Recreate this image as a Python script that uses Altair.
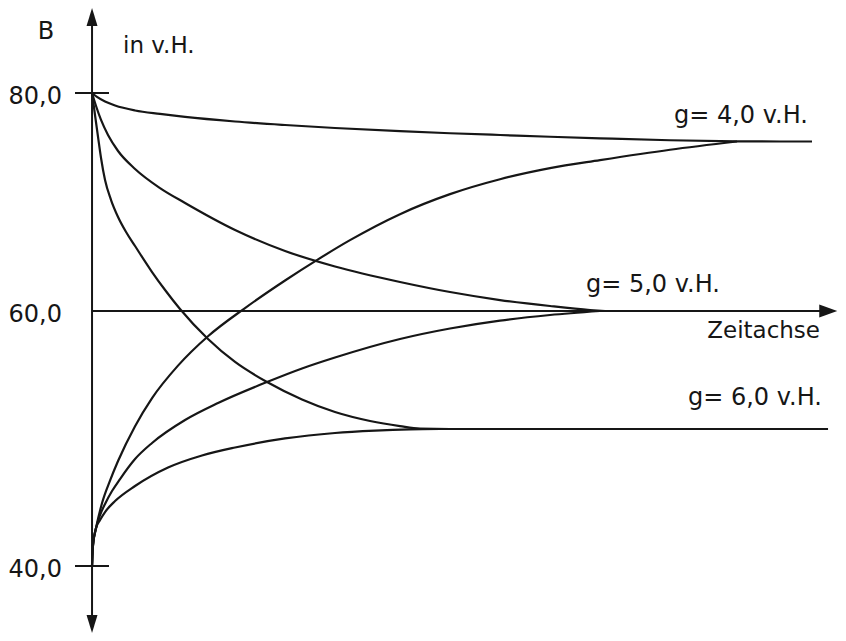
import altair as alt
import pandas as pd

# ---------------- data ----------------
# time (schematic units, 0 = vertical axis) and B (in v.H.)
t_g4_from80 = [0, 0.67, 1.75, 3.1, 5.79, 9.15, 12.52, 19.25, 25.98, 32.7, 41.45, 48.18, 54.91,
               61.64, 68.37, 77.79, 86.81, 92.6, 96.9]
v_g4_from80 = [80, 79.59, 79.12, 78.71, 78.20, 77.84, 77.53, 77.06, 76.70, 76.39, 76.06, 75.85,
               75.67, 75.49, 75.33, 75.13, 75.02, 75.0, 75.0]

t_g4_from40 = [0, 0.13, 0.54, 1.35, 2.42, 3.5, 5.79, 8.08, 11.57, 15.61, 20.59, 25.98, 30.42,
               34.72, 41.45, 48.18, 54.91, 61.64, 68.37, 77.79, 86.81]
v_g4_from40 = [40, 41.53, 42.77, 44.60, 46.23, 47.66, 50.24, 52.62, 55.37, 57.86, 60.26, 62.70,
               64.57, 66.27, 68.57, 70.34, 71.66, 72.64, 73.35, 74.27, 75.0]

t_g5_from80 = [0, 0.54, 1.21, 2.15, 3.5, 5.79, 9.15, 12.52, 19.25, 25.98, 32.7, 41.45, 48.18,
               54.91, 61.64, 67.03, 69.05]
v_g5_from80 = [80, 78.66, 77.22, 75.67, 74.16, 72.57, 70.88, 69.56, 67.17, 65.31, 63.94, 62.57,
               61.68, 60.97, 60.44, 60.09, 60.0]

t_g5_from40 = [0, 0.13, 0.54, 1.08, 1.75, 2.69, 3.77, 5.79, 8.08, 12.52, 16.96, 23.55, 28.26,
               32.7, 41.45, 48.18, 54.91, 61.64, 68.37]
v_g5_from40 = [40, 41.53, 42.77, 43.72, 44.53, 45.47, 46.35, 47.81, 48.98, 50.76, 52.20, 53.98,
               55.13, 56.06, 57.63, 58.52, 59.19, 59.66, 60.0]

t_g6_from80 = [0, 0.4, 0.81, 1.21, 1.75, 2.56, 3.5, 4.58, 5.79, 8.08, 9.83, 11.84, 15.61, 19.25,
               23.55, 28.26, 32.7, 37.42, 41.45, 44.15, 48.18, 99.06]
v_g6_from80 = [80, 77.73, 75.46, 73.54, 71.59, 69.82, 68.32, 66.99, 65.75, 63.45, 61.86, 60.18,
               57.63, 55.68, 53.98, 52.50, 51.44, 50.68, 50.25, 50.04, 50.0, 50.0]

t_g6_from40 = [0, 0.13, 0.54, 1.08, 1.75, 3.10, 5.79, 10.23, 14.80, 19.25, 25.98, 32.70, 38.09,
               42.80, 46.84]
v_g6_from40 = [40, 41.53, 42.77, 43.36, 43.94, 44.74, 45.84, 47.19, 48.07, 48.65, 49.31, 49.71,
               49.88, 49.97, 50.0]

levels = [75.0, 60.0, 50.0]
level_labels = ["g= 4,0 v.H.", "g= 5,0 v.H.", "g= 6,0 v.H."]
tick_values = [80.0, 60.0, 40.0]
tick_labels = ["80,0", "60,0", "40,0"]
marked_ticks = [80.0, 40.0]
axis_title_y = "B"
axis_unit = "in v.H."
axis_title_x = "Zeitachse"

# ---------------- build tables ----------------
curves = {
    "g4_80": (t_g4_from80, v_g4_from80),
    "g4_40": (t_g4_from40, v_g4_from40),
    "g5_80": (t_g5_from80, v_g5_from80),
    "g5_40": (t_g5_from40, v_g5_from40),
    "g6_80": (t_g6_from80, v_g6_from80),
    "g6_40": (t_g6_from40, v_g6_from40),
}
rows = []
for name, (ts, vs) in curves.items():
    for i, (t, v) in enumerate(zip(ts, vs)):
        rows.append({"curve": name, "i": i, "t": t, "v": v})
df_curves = pd.DataFrame(rows)

W, H = 830, 625
INK = "#161616"
FONT = "DejaVu Sans"

# schematic (hand-drawn) vertical scale: piecewise linear
xscale = alt.Scale(domain=[-11.31, 100.4], nice=False, zero=False)
yscale = alt.Scale(domain=[35.11, 40, 50, 60, 75, 80, 88.76],
                   range=[625, 558, 421, 303, 133.5, 85, 0], nice=False, zero=False)


def X(field="t"):
    return alt.X(f"{field}:Q", scale=xscale, axis=None)


def Y(field="v"):
    return alt.Y(f"{field}:Q", scale=yscale, axis=None)


lines = alt.Chart(df_curves).mark_line(
    interpolate="monotone", strokeWidth=2.2, color=INK
).encode(x=X(), y=Y(), detail="curve:N", order="i:Q")

v_axis = alt.Chart(pd.DataFrame({"t": [0.0], "v": [87.6], "v2": [36.4]})).mark_rule(
    strokeWidth=2, color=INK
).encode(x=X(), y=Y(), y2="v2:Q")

h_axis = alt.Chart(pd.DataFrame({"t": [0.0], "t2": [98.8], "v": [60.0]})).mark_rule(
    strokeWidth=2, color=INK
).encode(x=X(), x2="t2:Q", y=Y())

ticks = alt.Chart(pd.DataFrame({"v": marked_ticks})).mark_rule(
    strokeWidth=2, color=INK
).encode(x=alt.value(67), x2=alt.value(101), y=Y())

arrow_shape = "M0,0L0.61,2L-0.61,2Z"
arrow_top = alt.Chart(pd.DataFrame({"t": [0.0], "v": [88.76]})).mark_point(
    shape=arrow_shape, size=324, filled=True, opacity=1, color=INK, strokeWidth=0
).encode(x=X(), y=Y())
arrow_bottom = alt.Chart(pd.DataFrame({"t": [0.0], "v": [35.11]})).mark_point(
    shape=arrow_shape, size=324, filled=True, opacity=1, color=INK, strokeWidth=0, angle=180
).encode(x=X(), y=Y())
arrow_right = alt.Chart(pd.DataFrame({"t": [100.3], "v": [60.0]})).mark_point(
    shape="M0,0L0.72,2L-0.72,2Z", size=324, filled=True, opacity=1, color=INK, strokeWidth=0, angle=90
).encode(x=X(), y=Y())

tick_text = alt.Chart(pd.DataFrame({"v": tick_values, "label": tick_labels})).mark_text(
    align="right", baseline="alphabetic", dy=11, font=FONT, fontSize=24, color=INK
).encode(x=alt.value(54), y=Y(), text="label:N")

level_pos = [(800, -18.5), (712, -19), (814, -24)]
level_layers = []
for lv, lab, (px, dy) in zip(levels, level_labels, level_pos):
    level_layers.append(
        alt.Chart(pd.DataFrame({"v": [lv], "label": [lab]})).mark_text(
            align="right", baseline="alphabetic", dy=dy, font=FONT, fontSize=24, color=INK
        ).encode(x=alt.value(px), y=Y(), text="label:N")
    )

x_title = alt.Chart(pd.DataFrame({"v": [60.0], "label": [axis_title_x]})).mark_text(
    align="right", baseline="alphabetic", dy=27, font=FONT, fontSize=23, color=INK
).encode(x=alt.value(812), y=Y(), text="label:N")

y_title = alt.Chart(pd.DataFrame({"label": [axis_title_y]})).mark_text(
    align="center", baseline="alphabetic", font=FONT, fontSize=24, color=INK
).encode(x=alt.value(38), y=alt.value(31), text="label:N")

unit_title = alt.Chart(pd.DataFrame({"label": [axis_unit]})).mark_text(
    align="left", baseline="alphabetic", font=FONT, fontSize=23, color=INK
).encode(x=alt.value(115), y=alt.value(45), text="label:N")

chart = alt.layer(
    v_axis, h_axis, ticks, lines, arrow_top, arrow_bottom, arrow_right,
    tick_text, *level_layers, x_title, y_title, unit_title
).properties(
    width=W, height=H, padding=0, autosize="none", background="white"
).configure_view(strokeWidth=0)

chart.save("out.html", embed_options={"renderer": "svg", "actions": False})
